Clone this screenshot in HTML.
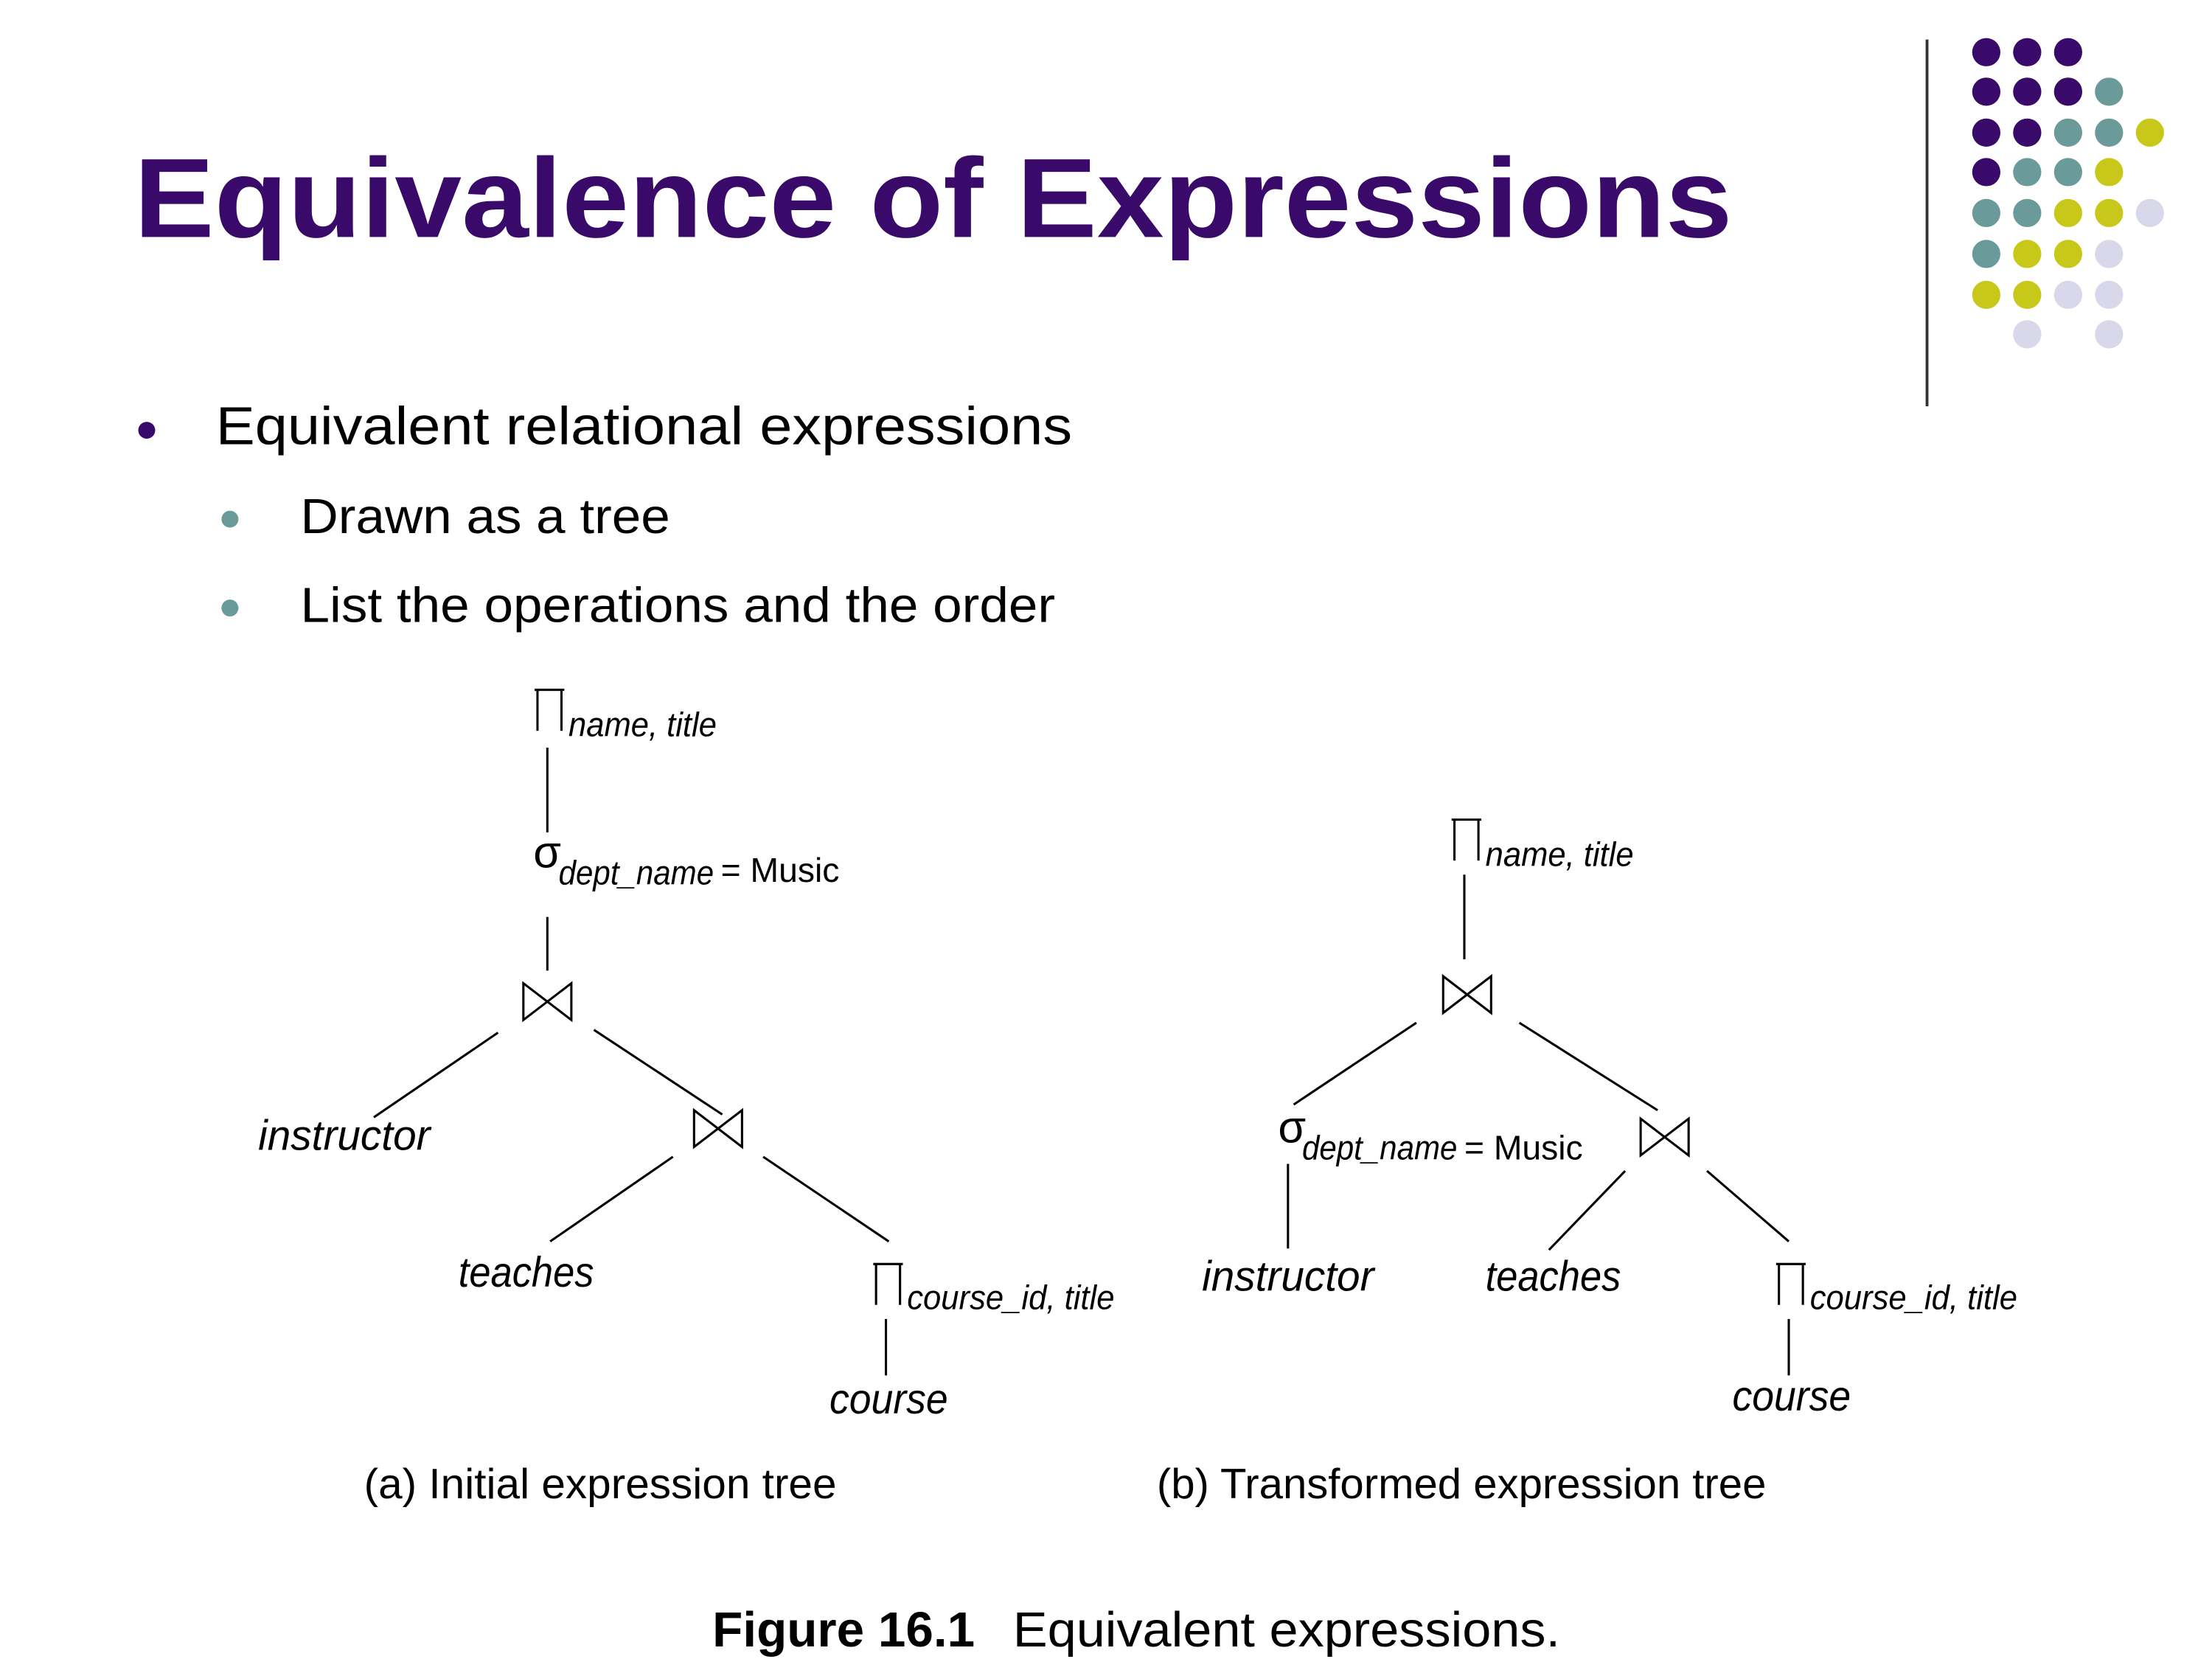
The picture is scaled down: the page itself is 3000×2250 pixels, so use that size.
<!DOCTYPE html>
<html><head><meta charset="utf-8"><style>
html,body{margin:0;padding:0;background:#fff;}
svg{display:block;}
text{font-family:"Liberation Sans",sans-serif;}
</style></head><body>
<svg width="3000" height="2250" viewBox="0 0 1568 1176" xmlns="http://www.w3.org/2000/svg">
<rect width="1568" height="1176" fill="#fff"/>
<line x1="1366" y1="28" x2="1366" y2="288" stroke="#333" stroke-width="2"/>
<g>
<circle cx="1408" cy="37" r="10" fill="#3a0a6a"/><circle cx="1437" cy="37" r="10" fill="#3a0a6a"/><circle cx="1466" cy="37" r="10" fill="#3a0a6a"/>
<circle cx="1408" cy="65" r="10" fill="#3a0a6a"/><circle cx="1437" cy="65" r="10" fill="#3a0a6a"/><circle cx="1466" cy="65" r="10" fill="#3a0a6a"/><circle cx="1495" cy="65" r="10" fill="#6a9a9a"/>
<circle cx="1408" cy="94" r="10" fill="#3a0a6a"/><circle cx="1437" cy="94" r="10" fill="#3a0a6a"/><circle cx="1466" cy="94" r="10" fill="#6a9a9a"/><circle cx="1495" cy="94" r="10" fill="#6a9a9a"/><circle cx="1524" cy="94" r="10" fill="#c8c81a"/>
<circle cx="1408" cy="122" r="10" fill="#3a0a6a"/><circle cx="1437" cy="122" r="10" fill="#6a9a9a"/><circle cx="1466" cy="122" r="10" fill="#6a9a9a"/><circle cx="1495" cy="122" r="10" fill="#c8c81a"/>
<circle cx="1408" cy="151" r="10" fill="#6a9a9a"/><circle cx="1437" cy="151" r="10" fill="#6a9a9a"/><circle cx="1466" cy="151" r="10" fill="#c8c81a"/><circle cx="1495" cy="151" r="10" fill="#c8c81a"/><circle cx="1524" cy="151" r="10" fill="#d8d8ea"/>
<circle cx="1408" cy="180" r="10" fill="#6a9a9a"/><circle cx="1437" cy="180" r="10" fill="#c8c81a"/><circle cx="1466" cy="180" r="10" fill="#c8c81a"/><circle cx="1495" cy="180" r="10" fill="#d8d8ea"/>
<circle cx="1408" cy="209" r="10" fill="#c8c81a"/><circle cx="1437" cy="209" r="10" fill="#c8c81a"/><circle cx="1466" cy="209" r="10" fill="#d8d8ea"/><circle cx="1495" cy="209" r="10" fill="#d8d8ea"/>
<circle cx="1437" cy="237" r="10" fill="#d8d8ea"/><circle cx="1495" cy="237" r="10" fill="#d8d8ea"/>
</g>
<text x="95" y="168" font-size="80" font-weight="bold" fill="#3a0a6a" textLength="1133" lengthAdjust="spacingAndGlyphs">Equivalence of Expressions</text>
<circle cx="104" cy="305" r="6" fill="#3a0a6a"/>
<text x="153" y="315" font-size="38" fill="#000" textLength="607" lengthAdjust="spacingAndGlyphs">Equivalent relational expressions</text>
<circle cx="163" cy="368" r="6" fill="#6a9a9a"/>
<text x="213" y="378" font-size="35" fill="#000" textLength="262" lengthAdjust="spacingAndGlyphs">Drawn as a tree</text>
<circle cx="163" cy="431" r="6" fill="#6a9a9a"/>
<text x="213" y="441" font-size="35" fill="#000" textLength="535" lengthAdjust="spacingAndGlyphs">List the operations and the order</text>

<g stroke="#000" stroke-width="1.6" fill="none">
<line x1="388" y1="530" x2="388" y2="590"/>
<line x1="388" y1="650" x2="388" y2="688"/>
<path d="M371,697 L405,723 L405,697 L371,723 Z"/>
<line x1="353" y1="732" x2="265" y2="792"/>
<line x1="421" y1="730" x2="512" y2="790"/>
<path d="M492,787 L526,813 L526,787 L492,813 Z"/>
<line x1="477" y1="820" x2="390" y2="880"/>
<line x1="541" y1="820" x2="630" y2="880"/>
<line x1="628" y1="935" x2="628" y2="975"/>
<line x1="1038" y1="620" x2="1038" y2="680"/>
<path d="M1023,692 L1057,718 L1057,692 L1023,718 Z"/>
<line x1="1004" y1="725" x2="917" y2="783"/>
<line x1="1077" y1="725" x2="1175" y2="787"/>
<line x1="913" y1="825" x2="913" y2="885"/>
<path d="M1163,793 L1197,819 L1197,793 L1163,819 Z"/>
<line x1="1152" y1="830" x2="1098" y2="886"/>
<line x1="1210" y1="830" x2="1268" y2="880"/>
<line x1="1268" y1="935" x2="1268" y2="975"/>
<!-- Pi symbols -->
<path d="M379,489 H400 M381,489 V518 M398,489 V518"/>
<path d="M1029,581 H1050 M1031,581 V610 M1048,581 V610"/>
<path d="M619,896 H640 M621,896 V925 M638,896 V925"/>
<path d="M1259,896 H1280 M1261,896 V925 M1278,896 V925"/>
</g>

<g fill="#000">
<text x="403" y="522" font-size="24" font-style="italic" textLength="105" lengthAdjust="spacingAndGlyphs">name, title</text>
<text x="378" y="615" font-size="32">σ</text>
<text x="396" y="627" font-size="24" font-style="italic" textLength="110" lengthAdjust="spacingAndGlyphs">dept_name</text>
<text x="511" y="625" font-size="24" textLength="84" lengthAdjust="spacingAndGlyphs">= Music</text>
<text x="183" y="815" font-size="30" font-style="italic" textLength="122" lengthAdjust="spacingAndGlyphs">instructor</text>
<text x="325" y="912" font-size="30" font-style="italic" textLength="96" lengthAdjust="spacingAndGlyphs">teaches</text>
<text x="643" y="928" font-size="24" font-style="italic" textLength="147" lengthAdjust="spacingAndGlyphs">course_id, title</text>
<text x="588" y="1002" font-size="30" font-style="italic" textLength="84" lengthAdjust="spacingAndGlyphs">course</text>
<text x="1053" y="614" font-size="24" font-style="italic" textLength="105" lengthAdjust="spacingAndGlyphs">name, title</text>
<text x="906" y="810" font-size="32">σ</text>
<text x="923" y="822" font-size="24" font-style="italic" textLength="110" lengthAdjust="spacingAndGlyphs">dept_name</text>
<text x="1038" y="822" font-size="24" textLength="84" lengthAdjust="spacingAndGlyphs">= Music</text>
<text x="852" y="915" font-size="30" font-style="italic" textLength="122" lengthAdjust="spacingAndGlyphs">instructor</text>
<text x="1053" y="915" font-size="30" font-style="italic" textLength="96" lengthAdjust="spacingAndGlyphs">teaches</text>
<text x="1283" y="928" font-size="24" font-style="italic" textLength="147" lengthAdjust="spacingAndGlyphs">course_id, title</text>
<text x="1228" y="1000" font-size="30" font-style="italic" textLength="84" lengthAdjust="spacingAndGlyphs">course</text>
<text x="258" y="1062" font-size="30" textLength="335" lengthAdjust="spacingAndGlyphs">(a) Initial expression tree</text>
<text x="820" y="1062" font-size="30" textLength="432" lengthAdjust="spacingAndGlyphs">(b) Transformed expression tree</text>
<text x="505" y="1167" font-size="35" font-weight="bold" textLength="186" lengthAdjust="spacingAndGlyphs">Figure 16.1</text>
<text x="718" y="1167" font-size="35" textLength="388" lengthAdjust="spacingAndGlyphs">Equivalent expressions.</text>
</g>
</svg>
</body></html>
